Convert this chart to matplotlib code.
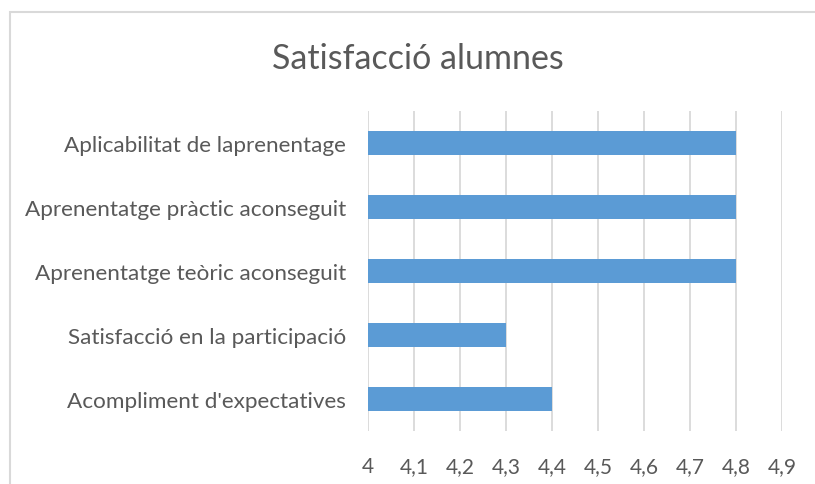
import matplotlib.pyplot as plt
from matplotlib.patches import Rectangle

# 数据
categories = ["Acompliment d'expectatives", "Satisfacció en la participació",
              "Aprenentatge teòric aconseguit", "Aprenentatge pràctic aconseguit",
              "Aplicabilitat de laprenentage"]
values = [4.4, 4.3, 4.8, 4.8, 4.8]
ticks = [4.0, 4.1, 4.2, 4.3, 4.4, 4.5, 4.6, 4.7, 4.8, 4.9]
tick_labels = ["4", "4,1", "4,2", "4,3", "4,4", "4,5", "4,6", "4,7", "4,8", "4,9"]

W, H = 815, 485
plt.rcParams['font.family'] = ['Lato', 'DejaVu Sans']
fig = plt.figure(figsize=(W / 100, H / 100), dpi=100)

# 外框
fig.patches.append(Rectangle((10 / W, -0.1), 1.1, 1 - 13 / H + 0.1, transform=fig.transFigure,
                             fill=False, edgecolor='#D9D9D9', linewidth=1.5))

ax = fig.add_axes([368 / W, 1 - 432 / H, (782 - 368) / W, 320 / H])
ax.barh(range(len(values)), [v - 4 for v in values], left=4, height=0.36, color='#5B9BD5')
ax.set_xlim(4, 4.9)
ax.set_ylim(-0.5, len(values) - 0.5)
ax.set_xticks(ticks)
ax.set_xticklabels(tick_labels)
ax.set_yticks(range(len(categories)))
ax.set_yticklabels(categories)
ax.tick_params(axis='x', length=0, pad=18, labelsize=15, labelcolor='#595959')
ax.tick_params(axis='y', length=0, pad=16, labelsize=16.2, labelcolor='#595959')
ax.grid(axis='x', color='#D9D9D9', linewidth=1.3)
ax.set_axisbelow(True)
for s in ax.spines.values():
    s.set_visible(False)

fig.text(418 / W, 1 - 59 / H, "Satisfacció alumnes", ha='center', va='center',
         fontsize=24.5, color='#595959')

fig.savefig('out.png', dpi=100)
